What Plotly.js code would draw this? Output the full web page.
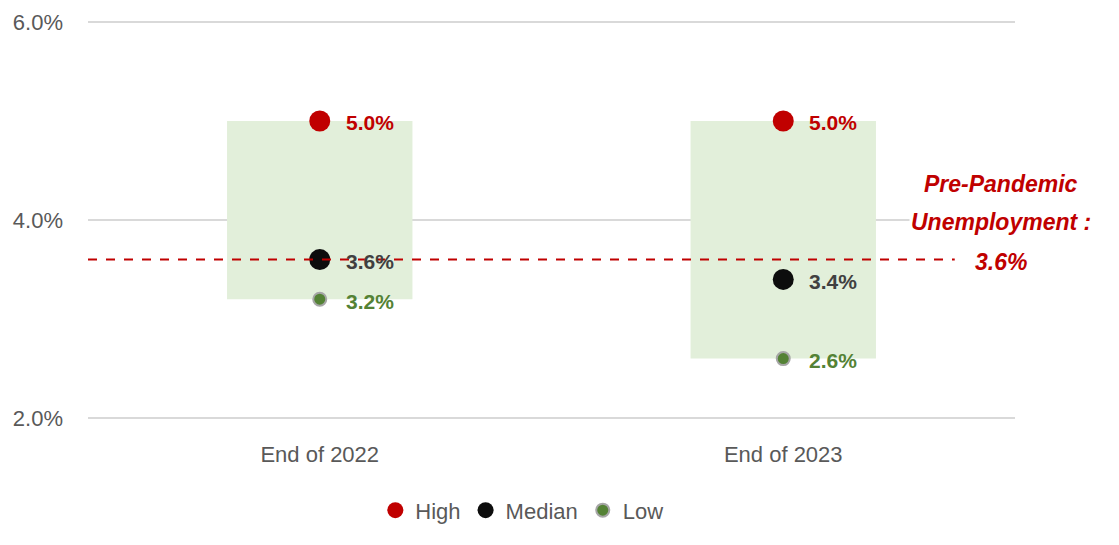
<!DOCTYPE html>
<html><head><meta charset="utf-8">
<script src="https://cdn.plot.ly/plotly-3.0.1.min.js"></script>
<style>html,body{margin:0;padding:0;background:#fff}</style>
</head><body><div id="chart" style="width:1119px;height:545px"></div>
<script>
const categories = ["End of 2022", "End of 2023"];
const highValues = [5.0, 5.0];
const medianValues = [3.6, 3.4];
const lowValues = [3.2, 2.6];
const preCovidRate = 3.6;
const refLines = ["Pre-Pandemic", "Unemployment :", "3.6%"];
const refLineY = [4.36, 3.98, 3.58];
const yTicks = [2, 4, 6];

const FONT = "Liberation Sans, Arial, sans-serif";
const fmt = v => v.toFixed(1) + "%";

const traces = [
  {type: "bar", x: categories, base: lowValues, y: highValues.map((h, i) => h - lowValues[i]),
   width: 0.4, marker: {color: "#e2efda"}, showlegend: false, hoverinfo: "skip"},
  {type: "scatter", mode: "markers", name: "High", x: categories, y: highValues,
   marker: {color: "#c00000", size: 21}},
  {type: "scatter", mode: "markers", name: "Median", x: categories, y: medianValues,
   marker: {color: "#0d0d0d", size: 21}},
  {type: "scatter", mode: "markers", name: "Low", x: categories, y: lowValues,
   marker: {color: "#548235", size: 13, line: {color: "#a6a6a6", width: 2}}}
];

const annotations = [];
const series = [[highValues, "#c00000"], [medianValues, "#404040"], [lowValues, "#548235"]];
series.forEach(([vals, col]) => {
  vals.forEach((v, i) => annotations.push({
    x: categories[i], y: v, xref: "x", yref: "y", text: "<b>" + fmt(v) + "</b>",
    showarrow: false, xanchor: "left", xshift: 24, yshift: -2, font: {family: FONT, size: 21, color: col}
  }));
});
refLines.forEach((t, i) => annotations.push({
  x: 1.0, y: refLineY[i], xref: "paper", yref: "y", text: "<b><i>" + t + "</i></b>",
  showarrow: false, xanchor: "center", xshift: -14, bgcolor: "#ffffff",
  font: {family: FONT, size: 23, color: "#c00000"}
}));

const gridShapes = yTicks.map(v => ({type: "line", xref: "paper", yref: "y", x0: 0, x1: 1, y0: v, y1: v,
  line: {color: "#d9d9d9", width: 2}, layer: "below"}));

const layout = {
  width: 1119, height: 545,
  margin: {l: 88, r: 104, t: 19, b: 124},
  paper_bgcolor: "#ffffff", plot_bgcolor: "#ffffff",
  font: {family: FONT, color: "#595959"},
  showlegend: true,
  legend: {orientation: "h", x: 0.468, xanchor: "center", y: -0.17, yanchor: "top",
           font: {family: FONT, size: 22, color: "#595959"}, itemwidth: 30},
  xaxis: {type: "category", showgrid: false, zeroline: false, showline: false,
          ticks: "", tickfont: {family: FONT, size: 22, color: "#595959"}, ticklabelstandoff: 18},
  yaxis: {range: [1.97, 6.03], tickvals: yTicks, ticktext: yTicks.map(fmt), showgrid: false,
          zeroline: false, showline: false,
          tickfont: {family: FONT, size: 22, color: "#595959"}, ticklabelstandoff: 24},
  shapes: gridShapes.concat([{type: "line", xref: "paper", yref: "y", x0: 0, x1: 0.935, y0: preCovidRate, y1: preCovidRate,
            line: {color: "#c00000", width: 2, dash: "dash"}, layer: "above"}]),
  annotations: annotations
};

Plotly.newPlot("chart", traces, layout, {displayModeBar: false, staticPlot: true});
</script></body></html>
